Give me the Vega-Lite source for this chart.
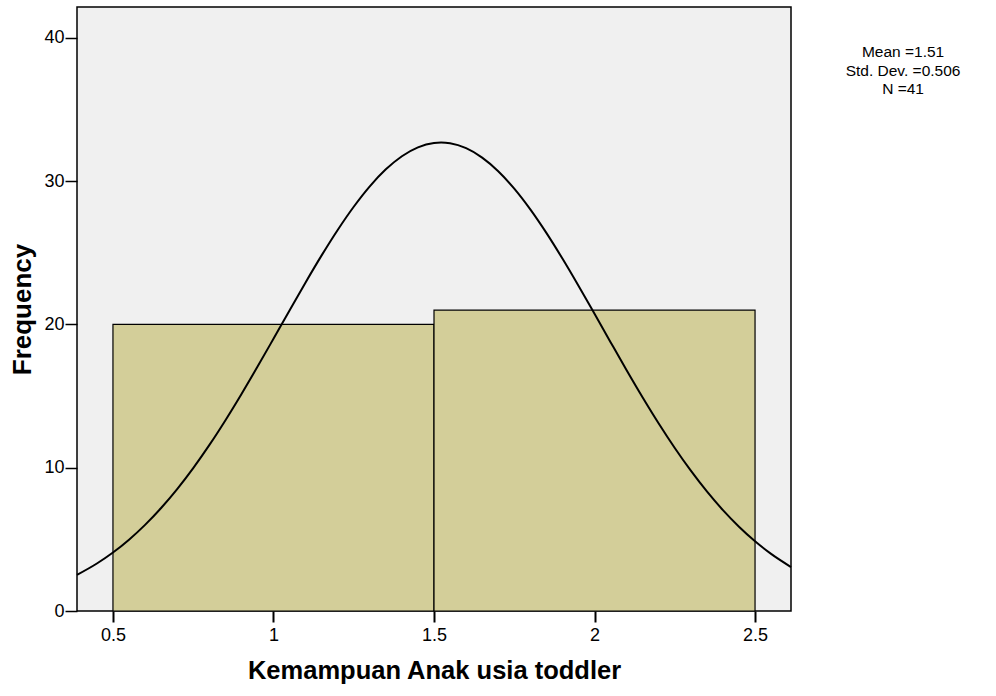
{
  "$schema": "https://vega.github.io/schema/vega-lite/v6.json",
  "width": 714,
  "height": 604,
  "autosize": {"type": "none"},
  "padding": {"left": 77, "top": 7, "right": 205, "bottom": 85},
  "background": "white",
  "config": {
    "font": "Liberation Sans",
    "view": {"fill": "#f0f0f0", "stroke": "black", "strokeWidth": 1.5}
  },
  "datasets": {
    "bars": [
      {"x0": 0.5, "x1": 1.5, "count": 20},
      {"x0": 1.5, "x1": 2.5, "count": 21}
    ],
    "curve": [
      {"x": 0.388, "y": 2.523}, {"x": 0.45, "y": 3.315}, {"x": 0.5, "y": 4.082}, {"x": 0.55, "y": 4.98},
      {"x": 0.6, "y": 6.014}, {"x": 0.65, "y": 7.191}, {"x": 0.7, "y": 8.511}, {"x": 0.75, "y": 9.976},
      {"x": 0.8, "y": 11.576}, {"x": 0.85, "y": 13.301}, {"x": 0.9, "y": 15.13}, {"x": 0.95, "y": 17.041},
      {"x": 1.0, "y": 19.003}, {"x": 1.05, "y": 20.981}, {"x": 1.1, "y": 22.935}, {"x": 1.15, "y": 24.822},
      {"x": 1.2, "y": 26.598}, {"x": 1.25, "y": 28.219}, {"x": 1.3, "y": 29.643}, {"x": 1.35, "y": 30.829},
      {"x": 1.4, "y": 31.745}, {"x": 1.45, "y": 32.364}, {"x": 1.5, "y": 32.669}, {"x": 1.522, "y": 32.7},
      {"x": 1.55, "y": 32.649}, {"x": 1.6, "y": 32.306}, {"x": 1.65, "y": 31.65}, {"x": 1.7, "y": 30.7},
      {"x": 1.75, "y": 29.483}, {"x": 1.8, "y": 28.034}, {"x": 1.85, "y": 26.392}, {"x": 1.9, "y": 24.6},
      {"x": 1.95, "y": 22.703}, {"x": 2.0, "y": 20.744}, {"x": 2.05, "y": 18.766}, {"x": 2.1, "y": 16.807},
      {"x": 2.15, "y": 14.905}, {"x": 2.2, "y": 13.088}, {"x": 2.25, "y": 11.377}, {"x": 2.3, "y": 9.792},
      {"x": 2.35, "y": 8.345}, {"x": 2.4, "y": 7.04}, {"x": 2.45, "y": 5.882}, {"x": 2.5, "y": 4.865},
      {"x": 2.55, "y": 3.984}, {"x": 2.612, "y": 3.068}
    ],
    "stats": [
      {"label": "Mean =1.51", "x": 2.961, "y": 39.0},
      {"label": "Std. Dev. =0.506", "x": 2.961, "y": 37.7},
      {"label": "N =41", "x": 2.961, "y": 36.45}
    ]
  },
  "layer": [
    {
      "data": {"name": "bars"},
      "mark": {"type": "rect", "fill": "#d3ce99", "stroke": "black", "strokeWidth": 1.2},
      "encoding": {
        "x": {
          "field": "x0", "type": "quantitative",
          "scale": {"domain": [0.388, 2.612], "nice": false, "zero": false},
          "axis": {
            "values": [0.5, 1, 1.5, 2, 2.5],
            "format": "~g",
            "title": "Kemampuan Anak usia toddler",
            "titleFontSize": 25.5, "titleFontWeight": "bold", "titleColor": "black",
            "titlePadding": 14,
            "labelFontSize": 18, "labelColor": "black", "labelPadding": 4,
            "tickSize": 11, "tickColor": "black", "tickWidth": 2,
            "domain": false, "grid": false
          }
        },
        "x2": {"field": "x1"},
        "y": {
          "field": "count", "type": "quantitative",
          "scale": {"domain": [0, 42.16], "nice": false},
          "axis": {
            "values": [0, 10, 20, 30, 40],
            "title": "Frequency",
            "titleFontSize": 26, "titleFontWeight": "bold", "titleColor": "black",
            "titlePadding": 8,
            "labelFontSize": 18, "labelColor": "black", "labelPadding": 1,
            "tickSize": 12, "tickColor": "black", "tickWidth": 1.5,
            "domain": false, "grid": false
          }
        },
        "y2": {"datum": 0}
      }
    },
    {
      "data": {"name": "curve"},
      "mark": {"type": "line", "color": "black", "strokeWidth": 2, "interpolate": "monotone"},
      "encoding": {
        "x": {"field": "x", "type": "quantitative"},
        "y": {"field": "y", "type": "quantitative"}
      }
    },
    {
      "data": {"name": "stats"},
      "mark": {"type": "text", "fontSize": 15.5, "color": "black", "align": "center", "baseline": "middle", "clip": false},
      "encoding": {
        "x": {"field": "x", "type": "quantitative"},
        "y": {"field": "y", "type": "quantitative"},
        "text": {"field": "label"}
      }
    }
  ]
}
